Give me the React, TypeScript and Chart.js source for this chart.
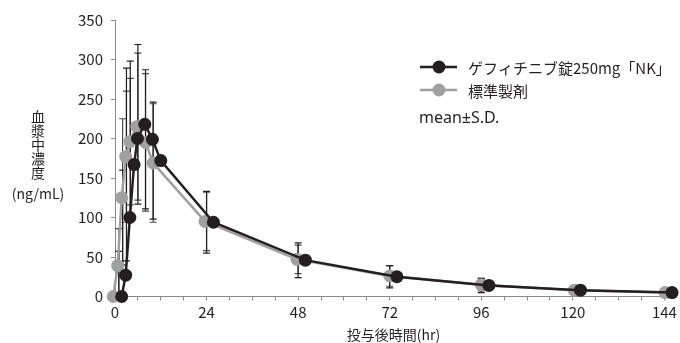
import React, { useEffect, useRef } from "react";
import { Chart, registerables } from "chart.js";

Chart.register(...registerables);

// ---- data ----
const nominalTimes = [0, 1, 2, 3, 4, 6, 8, 10, 24, 48, 72, 96, 120, 144];
const testLabel = "ゲフィチニブ錠250mg「NK」";
const testX = [1.75, 2.8, 3.9, 5.0, 5.9, 7.8, 9.8, 12.0, 25.8, 49.9, 73.9, 98.0, 122.0, 146.0];
const testMean = [0, 27, 100, 167, 200, 218, 199, 172, 94, 46, 25, 14, 8, 5];
const testSD = [0, 30, 60, 122, 98, 101, 88, 74, 39, 22, 14, 9, 4, 2.5];
const refLabel = "標準製剤";
const refX = [-0.45, 0.7, 1.75, 2.8, 3.9, 5.7, 8.0, 10.0, 23.6, 47.7, 72.0, 96.0, 120.4, 144.2];
const refMean = [0, 39, 125, 177, 196, 215, 195, 169, 95, 47, 26, 15, 8, 5];
const refSD = [0, 47, 100, 83, 80, 93, 87, 75, 37, 18, 13, 8, 4, 2.5];
const yTitleLines = ["血", "漿", "中", "濃", "度", "(ng/mL)"];
const xTitle = "投与後時間(hr)";
const noteText = "mean±S.D.";

const FONT = "'Noto Sans CJK JP', 'Noto Sans', sans-serif";
const LATIN = "'Noto Sans', 'Noto Sans CJK JP', sans-serif";
const BLACK = "#231f20";
const GRAY = "#a0a0a0";
const AXIS = "#8a8a8a";

const errorBarPlugin = {
  id: "errorBars",
  beforeDatasetsDraw(chart: any) {
    const { ctx, chartArea, scales } = chart;
    const sets = [
      { mean: refMean, sd: refSD, color: "#4a4a4a" },
      { mean: testMean, sd: testSD, color: BLACK },
    ];
    ctx.save();
    ctx.lineWidth = 1.2;
    sets.forEach((s) => {
      ctx.strokeStyle = s.color;
      nominalTimes.forEach((t, i) => {
        const sd = s.sd[i];
        if (!sd) return;
        const x = scales.x.getPixelForValue(t);
        const yTop = scales.y.getPixelForValue(s.mean[i] + sd);
        let yBot = scales.y.getPixelForValue(Math.max(0, s.mean[i] - sd));
        yBot = Math.min(yBot, chartArea.bottom);
        ctx.beginPath();
        ctx.moveTo(x, yTop);
        ctx.lineTo(x, yBot);
        ctx.moveTo(x - 3.5, yTop);
        ctx.lineTo(x + 3.5, yTop);
        if (s.mean[i] - sd > 0) {
          ctx.moveTo(x - 3.5, yBot);
          ctx.lineTo(x + 3.5, yBot);
        }
        ctx.stroke();
      });
    });
    ctx.restore();
  },
};

const overlayPlugin = {
  id: "overlay",
  afterDraw(chart: any) {
    const { ctx } = chart;
    ctx.save();
    // legend
    const items = chart.data.datasets.map((d: any) => ({ label: d.label, color: d.borderColor }));
    const rows = [67, 90];
    ctx.font = `15px ${FONT}`;
    ctx.textBaseline = "middle";
    ctx.textAlign = "left";
    items.forEach((it: any, i: number) => {
      const y = rows[i];
      ctx.strokeStyle = it.color;
      ctx.lineWidth = 2.5;
      ctx.beginPath();
      ctx.moveTo(420, y);
      ctx.lineTo(457, y);
      ctx.stroke();
      ctx.fillStyle = it.color;
      ctx.beginPath();
      ctx.arc(439, y, 6.5, 0, Math.PI * 2);
      ctx.fill();
      ctx.fillStyle = BLACK;
      ctx.fillText(it.label, 468, y + 1);
    });
    ctx.fillStyle = BLACK;
    ctx.font = `16px ${LATIN}`;
    ctx.fillText(noteText, 419, 118);
    // y title
    ctx.font = `14px ${FONT}`;
    ctx.textAlign = "center";
    const ys = [117, 131, 145, 159, 173, 194];
    yTitleLines.forEach((t, i) => ctx.fillText(t, 38, ys[i]));
    ctx.restore();
  },
};

export default function App() {
  const ref = useRef<HTMLCanvasElement | null>(null);
  useEffect(() => {
    document.body.style.margin = "0";
    const canvas = ref.current;
    if (!canvas) return;
    const chart = new Chart(canvas, {
      type: "line",
      data: {
        datasets: [
          {
            label: testLabel,
            data: testX.map((x, i) => ({ x, y: testMean[i] })),
            borderColor: BLACK,
            backgroundColor: BLACK,
            borderWidth: 2.5,
            pointRadius: 6.5,
            pointBorderWidth: 0,
            pointBackgroundColor: BLACK,
            clip: false as any,
          },
          {
            label: refLabel,
            data: refX.map((x, i) => ({ x, y: refMean[i] })),
            borderColor: GRAY,
            backgroundColor: GRAY,
            borderWidth: 2.5,
            pointRadius: 6.5,
            pointBorderWidth: 0,
            pointBackgroundColor: GRAY,
            clip: false as any,
          },
        ],
      },
      options: {
        animation: false,
        responsive: true,
        maintainAspectRatio: false,
        layout: { padding: { top: 20, right: 7, left: 0, bottom: 0 } },
        plugins: { legend: { display: false }, tooltip: { enabled: false } },
        scales: {
          x: {
            type: "linear",
            min: 0,
            max: 146,
            ticks: {
              stepSize: 6,
              includeBounds: false,
              autoSkip: false,
              maxRotation: 0,
              padding: 3,
              color: BLACK,
              font: { family: FONT, size: 15 },
              callback: (v: any) => (Number(v) % 24 === 0 ? String(v) : ""),
            },
            grid: { display: true, drawOnChartArea: false, drawTicks: true, tickLength: 4, color: AXIS },
            border: { display: true, color: AXIS, width: 1 },
            title: {
              display: true,
              text: xTitle,
              color: BLACK,
              font: { family: FONT, size: 14 },
              padding: { top: 0, bottom: 0 },
            },
            afterFit: (s: any) => {
              s.height = 343 - 296.5;
            },
          },
          y: {
            min: 0,
            max: 350,
            ticks: {
              stepSize: 50,
              padding: 8,
              color: BLACK,
              font: { family: FONT, size: 15 },
            },
            grid: { display: true, drawOnChartArea: false, drawTicks: true, tickLength: 4, color: AXIS },
            border: { display: true, color: AXIS, width: 1 },
            afterFit: (s: any) => {
              s.width = 115;
            },
          },
        },
      },
      plugins: [errorBarPlugin, overlayPlugin],
    });
    return () => chart.destroy();
  }, []);
  return (
    <div style={{ width: 680, height: 343, position: "relative", background: "#fff" }}>
      <canvas ref={ref} />
    </div>
  );
}
